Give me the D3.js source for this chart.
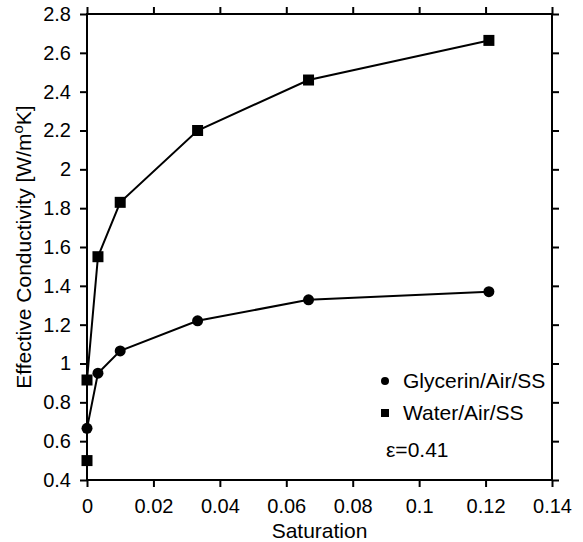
<!DOCTYPE html>
<html>
<head>
<meta charset="utf-8">
<script src="https://cdn.jsdelivr.net/npm/d3@7"></script>
<style>
  body { margin: 0; background: #fff; }
  text { font-family: "Liberation Sans", Arial, sans-serif; fill: #000; }
</style>
</head>
<body>
<div id="chart"></div>
<script>
// data
var saturation = [0, 0.0033, 0.01, 0.0333, 0.0667, 0.121];
var glycerin = [0.666, 0.95, 1.065, 1.22, 1.328, 1.37];
var waterSat = [0, 0, 0.0033, 0.01, 0.0333, 0.0667, 0.121];
var water = [0.5, 0.915, 1.55, 1.83, 2.2, 2.46, 2.664];
var xTicks = [0, 0.02, 0.04, 0.06, 0.08, 0.1, 0.12, 0.14];
var yTicks = [0.4, 0.6, 0.8, 1, 1.2, 1.4, 1.6, 1.8, 2, 2.2, 2.4, 2.6, 2.8];
var legendNames = ["Glycerin/Air/SS", "Water/Air/SS"];

var width = 583, height = 542;
var margin = {top: 14, right: 31, bottom: 62, left: 87};
var fontSize = "20px", labelSize = "21px";

var svg = d3.select("#chart").append("svg")
    .attr("width", width)
    .attr("height", height);

var x = d3.scaleLinear().domain([0, 0.14]).range([margin.left, width - margin.right]);
var y = d3.scaleLinear().domain([0.4, 2.8]).range([height - margin.bottom, margin.top]);

var fmt = function(d) { return d3.format("")(+d.toFixed(2)); };

function styleAxis(g) {
  g.select(".domain").remove();
  g.selectAll(".tick line").attr("stroke", "#000").attr("stroke-width", 2);
  g.selectAll(".tick text").style("font-size", fontSize);
}

// axes, ticks outward on all four sides
svg.append("g")
    .attr("transform", "translate(0," + y.range()[0] + ")")
    .call(d3.axisBottom(x).tickValues(xTicks).tickFormat(fmt).tickSize(7).tickPadding(12))
    .call(styleAxis);
svg.append("g")
    .attr("transform", "translate(0," + y.range()[1] + ")")
    .call(d3.axisTop(x).tickValues(xTicks).tickFormat("").tickSize(7))
    .call(styleAxis);
svg.append("g")
    .attr("transform", "translate(" + x.range()[0] + ",0)")
    .call(d3.axisLeft(y).tickValues(yTicks).tickFormat(fmt).tickSize(7).tickPadding(9))
    .call(styleAxis);
svg.append("g")
    .attr("transform", "translate(" + x.range()[1] + ",0)")
    .call(d3.axisRight(y).tickValues(yTicks).tickFormat("").tickSize(7))
    .call(styleAxis);

svg.append("rect")
    .attr("x", x.range()[0]).attr("y", y.range()[1])
    .attr("width", x.range()[1] - x.range()[0])
    .attr("height", y.range()[0] - y.range()[1])
    .attr("fill", "none").attr("stroke", "#000").attr("stroke-width", 2);

// axis titles
svg.append("text")
    .attr("x", (x.range()[0] + x.range()[1]) / 2)
    .attr("y", 538)
    .attr("text-anchor", "middle")
    .style("font-size", labelSize)
    .text("Saturation");

var yt = svg.append("text")
    .attr("transform", "translate(31," + ((y.range()[0] + y.range()[1]) / 2) + ") rotate(-90)")
    .attr("text-anchor", "middle")
    .style("font-size", labelSize);
yt.append("tspan").text("Effective Conductivity [W/m");
yt.append("tspan").attr("dy", -8).style("font-size", "15px").text("o");
yt.append("tspan").attr("dy", 8).text("K]");

// series
var line = d3.line().x(function(d) { return x(d[0]); }).y(function(d) { return y(d[1]); });
var gly = d3.zip(saturation, glycerin);
var wat = d3.zip(waterSat, water);

svg.append("path").datum(gly).attr("d", line)
    .attr("fill", "none").attr("stroke", "#000").attr("stroke-width", 2);
svg.append("path").datum(wat).attr("d", line)
    .attr("fill", "none").attr("stroke", "#000").attr("stroke-width", 2);

svg.selectAll(".gly").data(gly).enter().append("circle")
    .attr("cx", function(d) { return x(d[0]); })
    .attr("cy", function(d) { return y(d[1]); })
    .attr("r", 5.5)
    .attr("fill", "#000");

svg.selectAll(".wat").data(wat).enter().append("rect")
    .attr("x", function(d) { return x(d[0]) - 5.5; })
    .attr("y", function(d) { return y(d[1]) - 5.5; })
    .attr("width", 11).attr("height", 11)
    .attr("fill", "#000");

// legend
var lg = svg.append("g").attr("transform", "translate(385,381)");
lg.append("circle").attr("cx", 0).attr("cy", 0).attr("r", 4).attr("fill", "#000");
lg.append("rect").attr("x", -4).attr("y", 28).attr("width", 8).attr("height", 8).attr("fill", "#000");
lg.selectAll(".lt").data(legendNames).enter().append("text")
    .attr("x", 18)
    .attr("y", function(d, i) { return i * 32 + 7; })
    .style("font-size", labelSize)
    .text(function(d) { return d; });
lg.append("text")
    .attr("x", 1).attr("y", 76)
    .style("font-size", labelSize)
    .text("\u03b5=0.41");
</script>
</body>
</html>
